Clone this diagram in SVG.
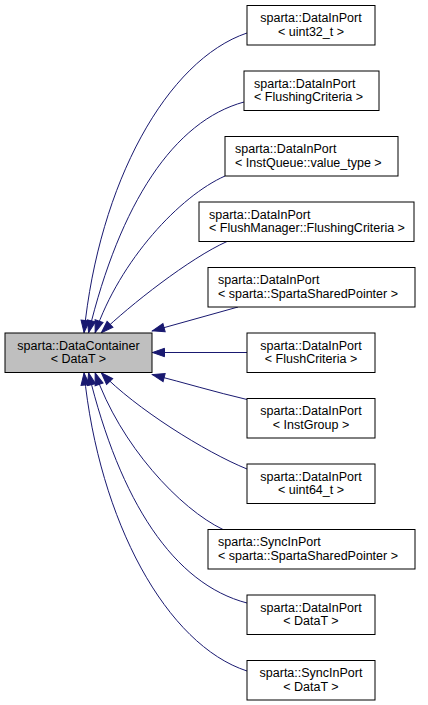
<svg xmlns="http://www.w3.org/2000/svg" width="428" height="705" viewBox="0 0 428 705">
<style>
.n rect{fill:#ffffff;stroke:#000000;stroke-width:1}
#base rect{fill:#bfbfbf}
text{font-family:"Liberation Sans",Arial,Helvetica,sans-serif;font-size:12.5px;fill:#000000}
.c text{text-anchor:middle}
.l text{text-anchor:start}
#edges path{fill:none;stroke:#191970;stroke-width:1;marker-end:url(#ah)}
</style>
<defs>
<marker id="ah" markerUnits="userSpaceOnUse" markerWidth="16" markerHeight="12" viewBox="0 0 16 12" refX="12.5" refY="5" orient="auto" overflow="visible">
<path d="M0,0.8 L12,5 L0,9.2 z" fill="#191970" stroke="#191970" stroke-width="1"/>
</marker>
</defs>
<rect width="428" height="705" fill="#ffffff"/>
<g id="edges">
<path d="M247,33 C167,60 99,183 84,333"/>
<path d="M244,102 C174,121 120,203 88.5,333"/>
<path d="M225,176 C180,196 120,260 95,333"/>
<path d="M227,241.5 C190,258 130,305 101,333"/>
<path d="M238,307 L152,331"/>
<path d="M247,352.5 L152,352.5"/>
<path d="M247,399.5 C215,392 185,383 152,374.5"/>
<path d="M247,469 C205,452 135,408 101,372.5"/>
<path d="M223,529.5 C180,509 120,445 95,372.5"/>
<path d="M247,603 C174,584 120,502 88.5,372.5"/>
<path d="M247,671 C167,645 99,522 84,372.5"/>
</g>
<g id="base" class="n c">
<rect x="5" y="333" width="147" height="39.5"/>
<text x="78.5" y="349.6">sparta::DataContainer</text>
<text x="78.5" y="363">&lt; DataT &gt;</text>
</g>
<g id="n1" class="n c">
<rect x="247" y="5.5" width="128" height="39.5"/>
<text x="311" y="22.1">sparta::DataInPort</text>
<text x="311" y="35.5">&lt; uint32_t &gt;</text>
</g>
<g id="n2" class="n l">
<rect x="244" y="71" width="135" height="39.5"/>
<text x="254" y="87.6">sparta::DataInPort</text>
<text x="254" y="101">&lt; FlushingCriteria &gt;</text>
</g>
<g id="n3" class="n l">
<rect x="225" y="136.5" width="173" height="39.5"/>
<text x="235" y="153.1">sparta::DataInPort</text>
<text x="235" y="166.5">&lt; InstQueue::value_type &gt;</text>
</g>
<g id="n4" class="n l">
<rect x="199" y="202" width="215" height="39.5"/>
<text x="209" y="218.6">sparta::DataInPort</text>
<text x="209" y="232">&lt; FlushManager::FlushingCriteria &gt;</text>
</g>
<g id="n5" class="n l">
<rect x="208" y="267.5" width="207" height="39.5"/>
<text x="218" y="284.1">sparta::DataInPort</text>
<text x="218" y="297.5">&lt; sparta::SpartaSharedPointer &gt;</text>
</g>
<g id="n6" class="n c">
<rect x="247" y="333" width="128" height="39.5"/>
<text x="311" y="349.6">sparta::DataInPort</text>
<text x="311" y="363">&lt; FlushCriteria &gt;</text>
</g>
<g id="n7" class="n c">
<rect x="247" y="398.5" width="128" height="39.5"/>
<text x="311" y="415.1">sparta::DataInPort</text>
<text x="311" y="428.5">&lt; InstGroup &gt;</text>
</g>
<g id="n8" class="n c">
<rect x="247" y="464" width="128" height="39.5"/>
<text x="311" y="480.6">sparta::DataInPort</text>
<text x="311" y="494">&lt; uint64_t &gt;</text>
</g>
<g id="n9" class="n l">
<rect x="208" y="529.5" width="207" height="39.5"/>
<text x="218" y="546.1">sparta::SyncInPort</text>
<text x="218" y="559.5">&lt; sparta::SpartaSharedPointer &gt;</text>
</g>
<g id="n10" class="n c">
<rect x="247" y="595" width="128" height="39.5"/>
<text x="311" y="611.6">sparta::DataInPort</text>
<text x="311" y="625">&lt; DataT &gt;</text>
</g>
<g id="n11" class="n c">
<rect x="247" y="660.5" width="128" height="39.5"/>
<text x="311" y="677.1">sparta::SyncInPort</text>
<text x="311" y="690.5">&lt; DataT &gt;</text>
</g>
</svg>
